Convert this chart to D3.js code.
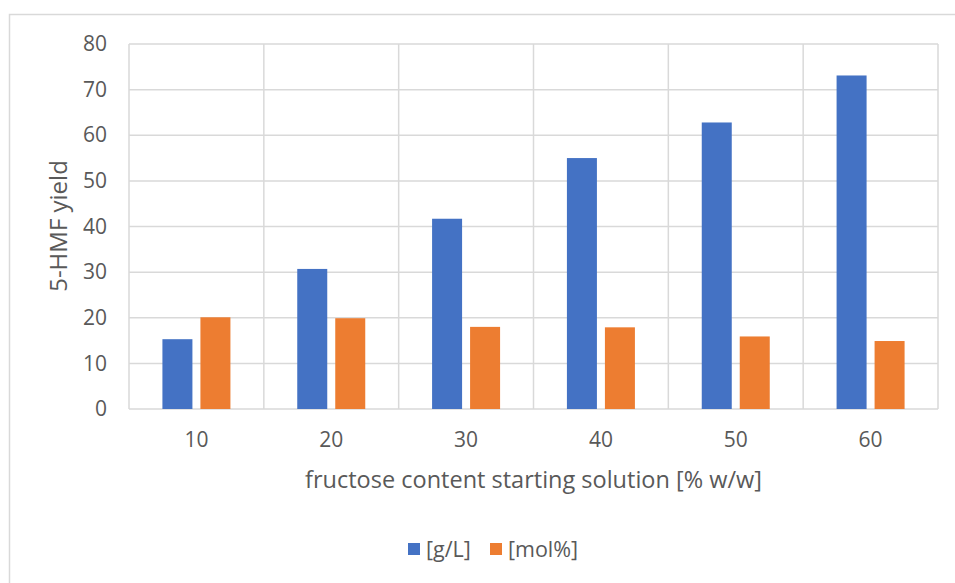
<!DOCTYPE html>
<html>
<head>
<meta charset="utf-8">
<script src="https://cdn.jsdelivr.net/npm/d3@7"></script>
<style>
  html, body { margin: 0; padding: 0; background: #fff; }
  svg { display: block; }
  text { font-family: "Open Sans", "Noto Sans", sans-serif; fill: #595959; }
</style>
</head>
<body>
<svg id="chart" width="955" height="583"></svg>
<script>
// Fructose content of the starting solution [% w/w]
const categories = ["10", "20", "30", "40", "50", "60"];
// 5-HMF yield per series
const seriesNames = ["[g/L]", "[mol%]"];
const yieldGL = [15.3, 30.7, 41.7, 55.0, 62.8, 73.1];
const yieldMol = [20.1, 19.9, 18.0, 17.9, 15.9, 14.9];
const yTicks = [0, 10, 20, 30, 40, 50, 60, 70, 80];
const colors = ["#4472C4", "#ED7D31"];

const svg = d3.select("#chart");
const W = 955, H = 583;
const plot = { left: 129, right: 938, top: 44, bottom: 409 };
const grid = "#d9d9d9";

// outer chart frame
svg.append("rect")
  .attr("x", 9.5).attr("y", 14.5)
  .attr("width", W + 10).attr("height", H + 10)
  .attr("fill", "none").attr("stroke", grid).attr("stroke-width", 1.5);

const x = d3.scaleBand().domain(categories).range([plot.left, plot.right]).padding(0);
const y = d3.scaleLinear().domain([0, 80]).range([plot.bottom, plot.top]);

// side-by-side bars within each category
const groupWidth = 68;
const xs = d3.scaleBand().domain(seriesNames)
  .range([-groupWidth / 2, groupWidth / 2]).paddingInner(8 / 38);

// horizontal gridlines
svg.append("g").selectAll("line").data(yTicks).join("line")
  .attr("x1", plot.left).attr("x2", plot.right)
  .attr("y1", d => y(d)).attr("y2", d => y(d))
  .attr("stroke", grid).attr("stroke-width", 1.5);

// vertical category gridlines
const bounds = categories.map(c => x(c)).concat([plot.right]);
svg.append("g").selectAll("line").data(bounds).join("line")
  .attr("x1", d => d).attr("x2", d => d)
  .attr("y1", plot.top).attr("y2", plot.bottom)
  .attr("stroke", grid).attr("stroke-width", 1.5);

// bars
const series = [yieldGL, yieldMol];
series.forEach((vals, si) => {
  svg.append("g").selectAll("rect").data(vals).join("rect")
    .attr("x", (d, i) => x(categories[i]) + x.bandwidth() / 2 + xs(seriesNames[si]))
    .attr("width", xs.bandwidth())
    .attr("y", d => y(d))
    .attr("height", d => y(0) - y(d))
    .attr("fill", colors[si]);
});

// y axis labels
const yAxis = d3.axisLeft(y).tickValues(yTicks).tickSize(0).tickPadding(0);
const gy = svg.append("g").attr("transform", `translate(107,0)`).call(yAxis);
gy.select(".domain").remove();
gy.selectAll("text").attr("font-size", 21).attr("fill", "#595959")
  .style("font-family", '"Open Sans", sans-serif');

// x axis labels
const xAxis = d3.axisBottom(x).tickSize(0).tickPadding(0);
const gx = svg.append("g").attr("transform", `translate(0,${plot.bottom + 23})`).call(xAxis);
gx.select(".domain").remove();
gx.selectAll("text").attr("font-size", 21).attr("fill", "#595959")
  .style("font-family", '"Open Sans", sans-serif');

// axis titles
svg.append("text")
  .attr("x", (plot.left + plot.right) / 2).attr("y", 488)
  .attr("text-anchor", "middle").attr("font-size", 23.5)
  .text("fructose content starting solution [% w/w]");

svg.append("text")
  .attr("transform", `translate(67,226) rotate(-90)`)
  .attr("text-anchor", "middle").attr("font-size", 24)
  .text("5-HMF yield");

// legend
const legendItems = [
  { name: seriesNames[0], color: colors[0], x: 408 },
  { name: seriesNames[1], color: colors[1], x: 490 }
];
const lg = svg.append("g");
legendItems.forEach(it => {
  lg.append("rect").attr("x", it.x).attr("y", 543)
    .attr("width", 12).attr("height", 12).attr("fill", it.color);
  lg.append("text").attr("x", it.x + 18).attr("y", 557)
    .attr("font-size", 21.5).text(it.name);
});
</script>
</body>
</html>
